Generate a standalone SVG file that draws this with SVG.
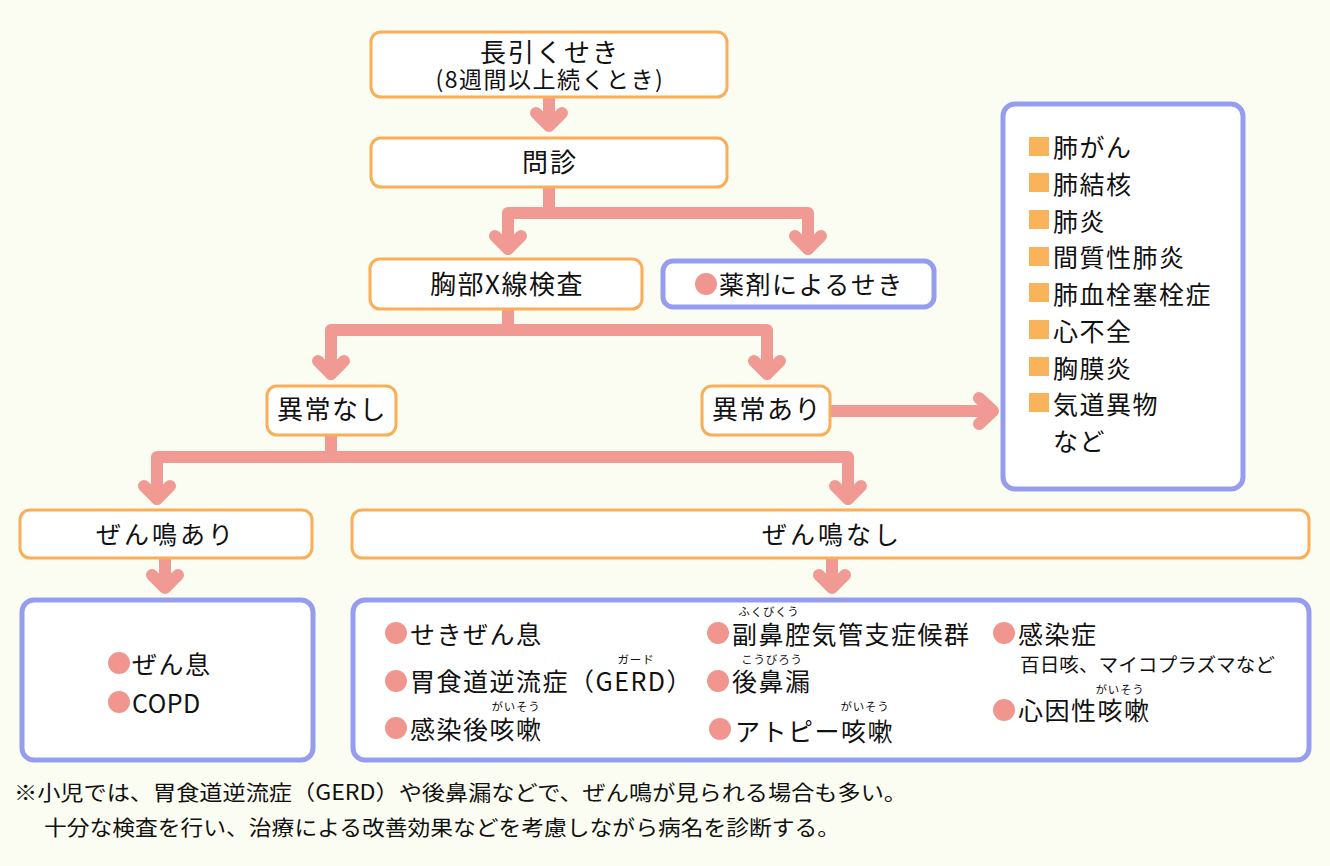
<svg xmlns="http://www.w3.org/2000/svg" width="1330" height="866" viewBox="0 0 1330 866">
<style>
.bg{fill:#FCFDF2}
.ob{fill:#FFFFFF;stroke:#F9AE57;stroke-width:3}
.bb{fill:#FFFFFF;stroke:#979DEE;stroke-width:5}
.t{font-family:"Noto Sans CJK JP","Noto Sans",sans-serif;fill:#111;font-size:25px;letter-spacing:1.5px}
.c{text-anchor:middle}
.r{font-family:"Noto Sans CJK JP","Noto Sans",sans-serif;fill:#111;font-size:11.5px;text-anchor:middle;letter-spacing:0.8px}
.s{font-family:"Noto Sans CJK JP","Noto Sans",sans-serif;fill:#111;font-size:19px}
.f{font-family:"Noto Sans CJK JP","Noto Sans",sans-serif;fill:#111;font-size:21px}
.dot{fill:#F0968F}
.sq{fill:#F8B35B}
.cn{fill:none;stroke:#F19A94;stroke-width:12;stroke-linecap:round;stroke-linejoin:round}
.cb{fill:none;stroke:#F19A94;stroke-width:12;stroke-linecap:butt;stroke-linejoin:round}
</style>
<rect class="bg" x="0" y="0" width="1330" height="866"/>

<g id="connectors">
  <path class="cb" d="M549 97 V126"/>
  <polyline class="cn" points="536,113 549,126 562,113"/>
  <path class="cb" d="M549 187 V213"/>
  <path class="cn" d="M508 249 V213 H808 V249"/>
  <polyline class="cn" points="495,236 508,249 521,236"/>
  <polyline class="cn" points="795,236 808,249 821,236"/>
  <path class="cb" d="M508 309 V330"/>
  <path class="cn" d="M331 374 V330 H767 V374"/>
  <polyline class="cn" points="318,361 331,374 344,361"/>
  <polyline class="cn" points="754,361 767,374 780,361"/>
  <path class="cb" d="M831 411 H992"/>
  <polyline class="cn" points="979,398 993,411 979,424"/>
  <path class="cb" d="M331 435 V457"/>
  <path class="cn" d="M157 499 V457 H848 V499"/>
  <polyline class="cn" points="144,486 157,499 170,486"/>
  <polyline class="cn" points="835,486 848,499 861,486"/>
  <path class="cb" d="M165 558 V588"/>
  <polyline class="cn" points="152,575 165,588 178,575"/>
  <path class="cb" d="M832 558 V588"/>
  <polyline class="cn" points="819,575 832,588 845,575"/>
</g>

<g id="n-start">
  <rect class="ob" x="371" y="32" width="356" height="65" rx="10"/>
  <text class="t c" x="550" y="62" style="font-size:26px;letter-spacing:2px">長引くせき</text>
  <text class="t c" x="550" y="88" style="font-size:23px">(8週間以上続くとき)</text>
</g>
<g id="n-monshin">
  <rect class="ob" x="371" y="138" width="356" height="49" rx="10"/>
  <text class="t c" x="550" y="172" style="font-size:26px;letter-spacing:2px">問診</text>
</g>
<g id="n-xray">
  <rect class="ob" x="370" y="259" width="272" height="50" rx="10"/>
  <text class="t c" x="507" y="294" style="font-size:26px">胸部X線検査</text>
</g>
<g id="n-drug">
  <rect class="bb" x="663" y="261" width="271" height="46" rx="10"/>
  <circle class="dot" cx="706" cy="284" r="11"/>
  <text class="t" x="719" y="294">薬剤によるせき</text>
</g>
<g id="n-normal">
  <rect class="ob" x="267" y="386" width="129" height="49" rx="10"/>
  <text class="t c" x="332" y="419" style="font-size:26px">異常なし</text>
</g>
<g id="n-abnormal">
  <rect class="ob" x="702" y="386" width="128" height="49" rx="10"/>
  <text class="t c" x="767" y="419" style="font-size:26px">異常あり</text>
</g>
<g id="n-abnormal-list">
  <rect class="bb" x="1003" y="104" width="240" height="385" rx="12"/>
  <rect class="sq" x="1029" y="137" width="20" height="19"/>
  <text class="t" x="1053" y="157">肺がん</text>
  <rect class="sq" x="1029" y="173" width="20" height="19"/>
  <text class="t" x="1053" y="194">肺結核</text>
  <rect class="sq" x="1029" y="210" width="20" height="19"/>
  <text class="t" x="1053" y="231">肺炎</text>
  <rect class="sq" x="1029" y="247" width="20" height="19"/>
  <text class="t" x="1053" y="267">間質性肺炎</text>
  <rect class="sq" x="1029" y="283" width="20" height="19"/>
  <text class="t" x="1053" y="304">肺血栓塞栓症</text>
  <rect class="sq" x="1029" y="320" width="20" height="19"/>
  <text class="t" x="1053" y="341">心不全</text>
  <rect class="sq" x="1029" y="357" width="20" height="19"/>
  <text class="t" x="1053" y="378">胸膜炎</text>
  <rect class="sq" x="1029" y="393" width="20" height="19"/>
  <text class="t" x="1053" y="414">気道異物</text>
  <text class="t" x="1053" y="451">など</text>
</g>
<g id="n-wheeze">
  <rect class="ob" x="20" y="510" width="292" height="48" rx="10"/>
  <text class="t c" x="166" y="544" style="letter-spacing:3px">ぜん鳴あり</text>
</g>
<g id="n-nowheeze">
  <rect class="ob" x="352" y="510" width="957" height="48" rx="10"/>
  <text class="t c" x="832" y="544" style="letter-spacing:3px">ぜん鳴なし</text>
</g>
<g id="n-wheeze-list">
  <rect class="bb" x="22" y="600" width="291" height="160" rx="12"/>
  <circle class="dot" cx="119" cy="663" r="11"/>
  <text class="t" x="132" y="674">ぜん息</text>
  <circle class="dot" cx="119" cy="702" r="11"/>
  <text class="t" x="132" y="713" style="letter-spacing:0.5px">COPD</text>
</g>
<g id="n-nowheeze-list">
  <rect class="bb" x="353" y="600" width="956" height="160" rx="12"/>
  <circle class="dot" cx="396" cy="633" r="11"/>
  <text class="t" x="410" y="644">せきぜん息</text>
  <circle class="dot" cx="396" cy="681" r="11"/>
  <text class="t" x="410" y="691">胃食道逆流症（GERD）</text>
  <text class="r" x="636" y="664">ガード</text>
  <circle class="dot" cx="396" cy="728" r="11"/>
  <text class="t" x="410" y="739">感染後咳嗽</text>
  <text class="r" x="516" y="711">がいそう</text>

  <circle class="dot" cx="718" cy="633" r="11"/>
  <text class="t" x="732" y="644">副鼻腔気管支症候群</text>
  <text class="r" x="769" y="616">ふくびくう</text>
  <circle class="dot" cx="718" cy="681" r="11"/>
  <text class="t" x="732" y="691">後鼻漏</text>
  <text class="r" x="772" y="664">こうびろう</text>
  <circle class="dot" cx="720" cy="729" r="11"/>
  <text class="t" x="735" y="741">アトピー咳嗽</text>
  <text class="r" x="865" y="711">がいそう</text>

  <circle class="dot" cx="1004" cy="633" r="11"/>
  <text class="t" x="1018" y="644">感染症</text>
  <text class="s" x="1020" y="672" textLength="255" lengthAdjust="spacingAndGlyphs">百日咳、マイコプラズマなど</text>
  <circle class="dot" cx="1004" cy="710" r="11"/>
  <text class="t" x="1018" y="720">心因性咳嗽</text>
  <text class="r" x="1120" y="694">がいそう</text>
</g>

<g id="footnote">
  <text class="f" x="14" y="800" textLength="893" lengthAdjust="spacingAndGlyphs">※小児では、胃食道逆流症（GERD）や後鼻漏などで、ぜん鳴が見られる場合も多い。</text>
  <text class="f" x="44" y="835" textLength="796" lengthAdjust="spacingAndGlyphs">十分な検査を行い、治療による改善効果などを考慮しながら病名を診断する。</text>
</g>
</svg>
